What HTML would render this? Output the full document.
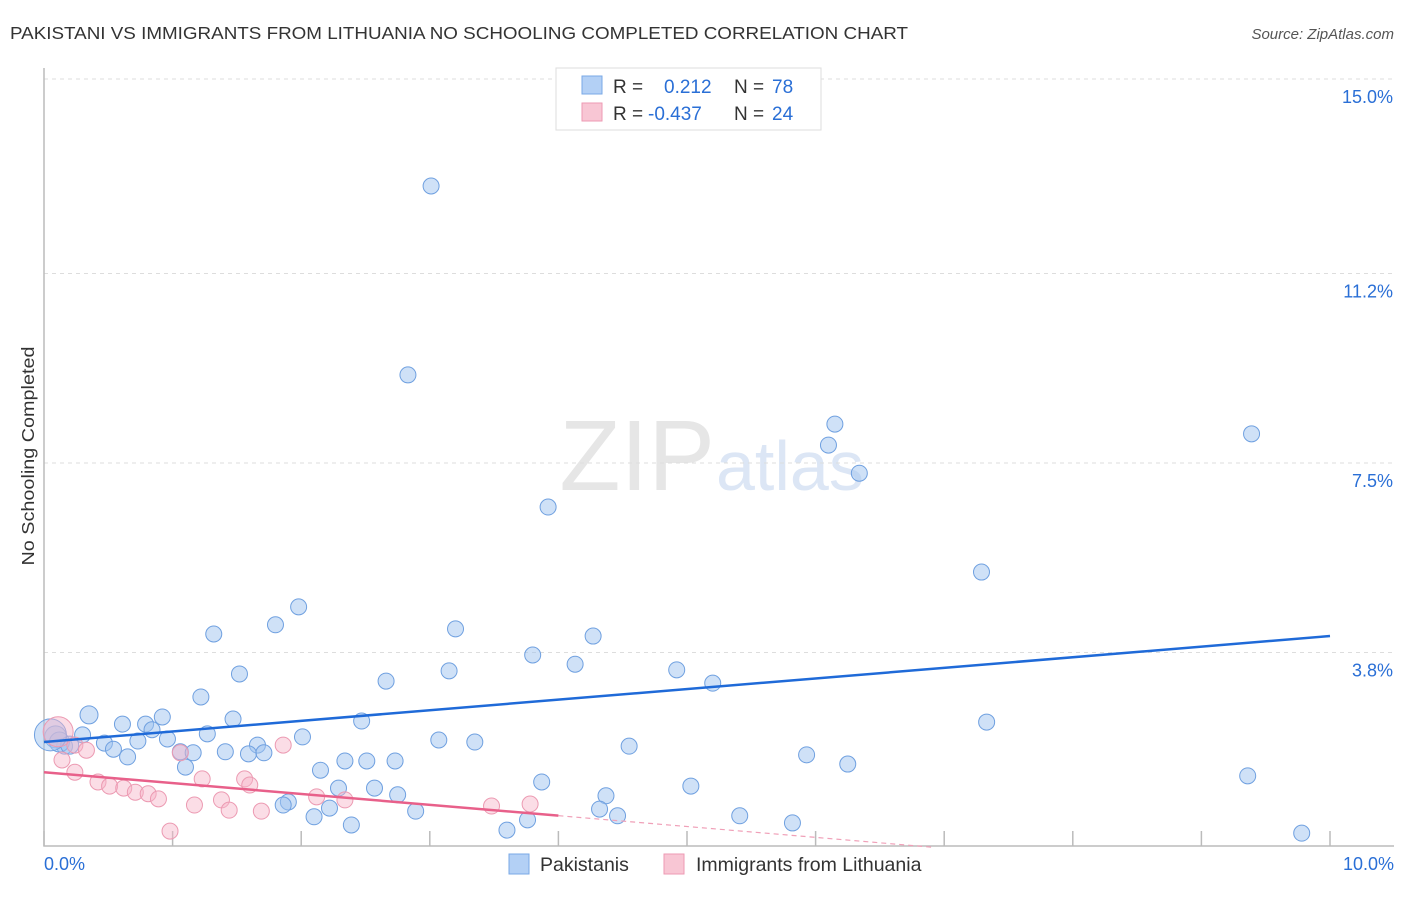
<!DOCTYPE html>
<html><head><meta charset="utf-8"><style>
body{margin:0;background:#fff;font-family:"Liberation Sans",sans-serif;}
svg text{font-family:"Liberation Sans",sans-serif;}
</style></head><body>
<svg id="c" width="1406" height="892" xmlns="http://www.w3.org/2000/svg">
<text x="10" y="39" font-size="17.5" fill="#333" textLength="898" lengthAdjust="spacingAndGlyphs">PAKISTANI VS IMMIGRANTS FROM LITHUANIA NO SCHOOLING COMPLETED CORRELATION CHART</text>
<text x="1394" y="39" font-size="15" fill="#555" text-anchor="end" font-style="italic">Source: ZipAtlas.com</text>
<text x="715" y="490" font-size="100" fill="#e6e6e6" text-anchor="end" font-family="Liberation Serif">ZIP</text>
<text x="716" y="490" font-size="70" fill="#dce6f5">atlas</text>
<text transform="translate(34,456) rotate(-90)" font-size="17.5" fill="#333" text-anchor="middle" textLength="219" lengthAdjust="spacingAndGlyphs">No Schooling Completed</text>
<g id="grid"></g><g id="marks"></g>
<g>
<rect x="556" y="68" width="265" height="62" fill="#fff" stroke="#ddd"/>
<rect x="582" y="76" width="20" height="18" fill="#b3d0f5" stroke="#7aa8e6"/>
<rect x="582" y="103" width="20" height="18" fill="#f8c6d4" stroke="#ee9ab3"/>
<text x="613" y="93" font-size="19" fill="#333">R =</text><text x="664" y="93" font-size="19" fill="#2a6fd6">0.212</text>
<text x="734" y="93" font-size="19" fill="#333">N =</text><text x="772" y="93" font-size="19" fill="#2a6fd6">78</text>
<text x="613" y="120" font-size="19" fill="#333">R =</text><text x="648" y="120" font-size="19" fill="#2a6fd6">-0.437</text>
<text x="734" y="120" font-size="19" fill="#333">N =</text><text x="772" y="120" font-size="19" fill="#2a6fd6">24</text>
</g>
<g>
<rect x="509" y="854" width="20" height="20" fill="#b3d0f5" stroke="#7aa8e6"/>
<text x="540" y="871" font-size="19.5" fill="#333">Pakistanis</text>
<rect x="664" y="854" width="20" height="20" fill="#f8c6d4" stroke="#ee9ab3"/>
<text x="696" y="871" font-size="19.5" fill="#333">Immigrants from Lithuania</text>
</g>
</svg>
<script>
const yTicks=[3.8,7.5,11.2,15.0];
const yTickLabels=["3.8%","7.5%","11.2%","15.0%"];
const xTickLabels=["0.0%","10.0%"];
const pakX=[3.01,2.83,3.92,6.15,6.10,6.34,9.39,7.29,1.98,1.80,1.32,3.20,4.27,3.80,4.13,3.15,4.92,1.52,5.20,2.66,1.22,0.35,0.92,1.47,2.47,7.33,0.61,0.79,0.84,1.27,0.30,2.01,0.96,3.07,3.35,0.73,0.47,1.66,4.55,0.16,0.54,1.06,1.16,1.41,1.59,1.71,0.65,5.93,2.34,2.51,2.73,6.25,1.10,2.15,9.36,3.87,2.29,5.03,2.57,2.75,4.37,1.90,1.86,2.22,4.32,2.89,2.10,4.46,5.41,3.76,2.39,5.82,3.60,9.78,0.09,0.12,0.20,0.05];
const pakY=[12.91,9.22,6.64,8.26,7.85,7.30,8.07,5.37,4.69,4.34,4.16,4.26,4.12,3.75,3.57,3.44,3.46,3.38,3.20,3.24,2.93,2.58,2.54,2.50,2.46,2.44,2.40,2.40,2.29,2.21,2.19,2.15,2.11,2.09,2.05,2.07,2.03,1.99,1.97,1.97,1.91,1.86,1.84,1.86,1.82,1.84,1.76,1.80,1.68,1.68,1.68,1.62,1.56,1.50,1.39,1.27,1.15,1.19,1.15,1.02,1.00,0.88,0.82,0.76,0.74,0.70,0.59,0.61,0.61,0.53,0.43,0.47,0.33,0.27,2.15,2.05,1.99,2.19];
const pakR=[8,8,8,8,8,8,8,8,8,8,8,8,8,8,8,8,8,8,8,8,8,9,8,8,8,8,8,8,8,8,8,8,8,8,8,8,8,8,8,8,8,8,8,8,8,8,8,8,8,8,8,8,8,8,8,8,8,8,8,8,8,8,8,8,8,8,8,8,8,8,8,8,8,8,11,10,9,16];
const litX=[0.11,0.24,0.14,0.33,0.24,0.42,0.51,0.62,0.71,0.81,0.89,1.06,1.23,1.17,1.38,1.44,1.56,1.60,1.69,1.86,2.12,2.34,3.48,3.78,0.98];
const litY=[2.25,1.99,1.70,1.89,1.46,1.27,1.19,1.15,1.07,1.04,0.94,1.84,1.33,0.82,0.92,0.72,1.33,1.21,0.70,1.99,0.98,0.92,0.80,0.84,0.31];
const litR=[15,8,8,8,8,8,8,8,8,8,8,8,8,8,8,8,8,8,8,8,8,8,8,8,8];
const blueTrend=[2.05,4.12];
const pinkTrend=[1.46,-0.66];
const X=v=>44+v*128.6, Y=v=>847-v*51.2;
const NS="http://www.w3.org/2000/svg";
const g=document.getElementById('grid'), m=document.getElementById('marks');
function mk(p,tag,a){const e=document.createElementNS(NS,tag);for(const k in a)e.setAttribute(k,a[k]);p.appendChild(e);return e;}
yTicks.forEach((t,i)=>{
 const l=mk(g,'line',{x1:44,x2:1394,y1:Y(t),y2:Y(t),stroke:'#ddd','stroke-dasharray':'4,4'});
 
 
 const tx=mk(g,'text',{x:1393,y:Y(t)+24,'font-size':18,fill:'#2a6fd6','text-anchor':'end'});tx.textContent=yTickLabels[i];
 
 
});
const ax=mk(g,'path',{d:'M44,68 V846 H1394',fill:'none',stroke:'#bbb','stroke-width':1.5});


for(let i=0;i<=10;i++){const t=mk(g,'line',{x1:X(i),x2:X(i),y1:831,y2:846,stroke:'#bbb','stroke-width':1.5});
 
 }
[[0,'start',44],[10,'end',1394]].forEach((d,i)=>{const t=mk(g,'text',{x:d[2],y:870,'font-size':18,fill:'#2a6fd6','text-anchor':d[1]});t.textContent=xTickLabels[i];
 
 });
pakX.forEach((x,i)=>{const c=mk(m,'circle',{cx:X(x),cy:Y(pakY[i]),r:pakR[i],fill:'rgba(160,196,240,0.5)',stroke:'#6fa0e0','stroke-width':1});
 
 });
litX.forEach((x,i)=>{const c=mk(m,'circle',{cx:X(x),cy:Y(litY[i]),r:litR[i],fill:'rgba(246,180,200,0.45)',stroke:'#ec9ab2','stroke-width':1});
 
 });
const bl=mk(m,'line',{x1:X(0),y1:Y(blueTrend[0]),x2:X(10),y2:Y(blueTrend[1]),stroke:'#1f6ad8','stroke-width':2.5});


const py=x=>pinkTrend[0]+(pinkTrend[1]-pinkTrend[0])*x/10;
const pl=mk(m,'line',{x1:X(0),y1:Y(py(0)),x2:X(4),y2:Y(py(4)),stroke:'#e8608a','stroke-width':2.5});


const pd=mk(m,'line',{x1:X(4),y1:Y(py(4)),x2:X(6.9),y2:Y(py(6.9)),stroke:'#f0a0b8','stroke-width':1.2,'stroke-dasharray':'5,4'});


</script>
</body></html>
